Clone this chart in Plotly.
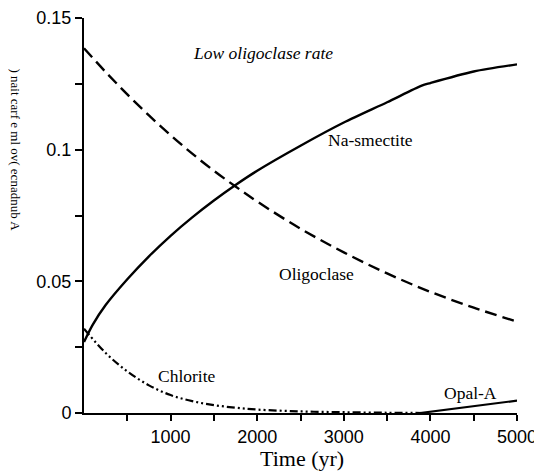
import plotly.graph_objects as go

# ---- data ----
time_smectite = [0, 100, 250, 500, 750, 1000, 1250, 1500, 1750, 2000, 2500, 3000, 3500, 3900, 4000, 4500, 5000]
na_smectite   = [0.027, 0.0335, 0.0410, 0.0508, 0.0595, 0.0673, 0.0743, 0.0807, 0.0866, 0.0920, 0.1015, 0.1103, 0.1180, 0.1243, 0.1253, 0.1297, 0.1324]

time_oligo = [0, 250, 500, 750, 1000, 1250, 1500, 1750, 2000, 2500, 3000, 3500, 4000, 4500, 5000]
oligoclase = [0.1385, 0.1295, 0.1210, 0.1130, 0.1055, 0.0985, 0.0920, 0.0860, 0.0803, 0.0700, 0.0610, 0.0530, 0.0460, 0.0400, 0.0347]

time_chlorite = [0, 250, 500, 750, 1000, 1250, 1500, 1750, 2000, 2500, 3000, 3500, 3900]
chlorite      = [0.032, 0.0228, 0.0158, 0.0105, 0.0068, 0.0045, 0.0030, 0.0020, 0.0013, 0.0006, 0.0003, 0.0001, 0.0]

time_opal = [3880, 4500, 5000]
opal_a    = [0.0, 0.0027, 0.0047]

x_tickvals = [500, 1000, 1500, 2000, 2500, 3000, 3500, 4000, 4500, 5000]
x_ticktext = ["", "1000", "", "2000", "", "3000", "", "4000", "", "5000"]
y_tickvals = [0, 0.025, 0.05, 0.075, 0.1, 0.125, 0.15]
y_ticktext = ["0", "", "0.05", "", "0.1", "", "0.15"]

serif = "Liberation Serif, Times New Roman, serif"
sans = "Liberation Sans, Arial, sans-serif"

fig = go.Figure()
fig.add_trace(go.Scatter(x=time_oligo, y=oligoclase, mode="lines", line_shape="spline",
                         line=dict(color="black", width=2.4, dash="12px,6px"), name="Oligoclase"))
fig.add_trace(go.Scatter(x=time_smectite, y=na_smectite, mode="lines", line_shape="spline",
                         line=dict(color="black", width=2.4, smoothing=0.8), name="Na-smectite"))
fig.add_trace(go.Scatter(x=time_chlorite, y=chlorite, mode="lines", line_shape="spline",
                         line=dict(color="black", width=2.2, dash="8px,3px,2px,3px,2px,3px"), name="Chlorite"))
fig.add_trace(go.Scatter(x=time_opal, y=opal_a, mode="lines",
                         line=dict(color="black", width=2.2), name="Opal-A"))

# the page body adds an 8px offset, so the figure is 8px smaller and margins compensate
fig.update_layout(
    width=534, height=468,
    margin=dict(l=76, r=25, t=10, b=63, autoexpand=False),
    paper_bgcolor="white", plot_bgcolor="white",
    showlegend=False,
    font=dict(family=sans, size=18, color="black"),
)
fig.update_xaxes(range=[0, 5000], showgrid=False, zeroline=False, automargin=False,
                 showline=True, linecolor="black", linewidth=2,
                 ticks="outside", ticklen=6, tickwidth=1.5, tickcolor="black",
                 tickvals=x_tickvals, ticktext=x_ticktext,
                 tickfont=dict(family=sans, size=18, color="black"))
fig.update_yaxes(range=[0, 0.15], showgrid=False, zeroline=False, automargin=False,
                 showline=True, linecolor="black", linewidth=2,
                 ticks="outside", ticklen=7, tickwidth=1.5, tickcolor="black",
                 tickvals=y_tickvals, ticktext=y_ticktext,
                 tickfont=dict(family=sans, size=18, color="black"))

annots = [
    dict(text="Time (yr)", x=(302-84)/433, y=(413-458)/395, font=dict(family=serif, size=22, color="black")),
    dict(text=") nait carf e ml ov( ecnadnub A", x=(15.5-84)/433, y=(413-150)/395, textangle=90,
         font=dict(family=serif, size=13, color="black")),
    dict(text="<i>Low oligoclase rate</i>", x=(263-84)/433, y=(413-53)/395, font=dict(family=serif, size=17.5, color="black")),
    dict(text="Na-smectite", x=(370-84)/433, y=(413-140)/395, font=dict(family=serif, size=17.5, color="black")),
    dict(text="Oligoclase", x=(316-84)/433, y=(413-274)/395, font=dict(family=serif, size=17.5, color="black")),
    dict(text="Chlorite", x=(187-84)/433, y=(413-376)/395, font=dict(family=serif, size=17.5, color="black")),
    dict(text="Opal-A", x=(470-84)/433, y=(413-393)/395, font=dict(family=serif, size=17.5, color="black")),
]
for a in annots:
    fig.add_annotation(xref="paper", yref="paper", showarrow=False,
                       xanchor="center", yanchor="middle", **a)

fig.write_html("out.html")
